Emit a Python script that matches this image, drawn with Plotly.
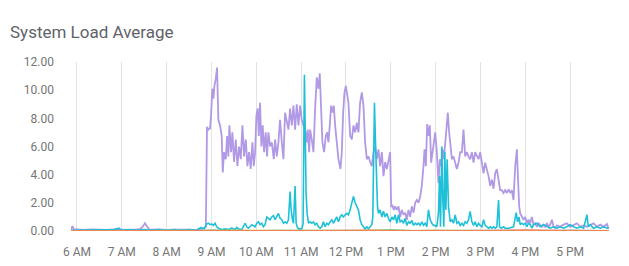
import datetime as dt
import plotly.graph_objects as go

TITLE = "System Load Average"
BASE = dt.datetime(2024, 1, 1, 6, 0)

# minutes after 6 AM
purple_t = [-8, -6, -4, 0, 10, 20, 30, 40, 50, 60, 70, 80, 85, 88, 91, 94, 97, 110, 120, 130, 140, 150, 160, 170, 172.5,
            174, 175.9, 178.1, 179.4, 181.2, 182.6, 183.9, 185.7, 187.5, 189.2, 191.5, 193.7, 195.1, 196.8, 199.1,
            200.9, 202.6, 204.0, 206.2, 208.0, 210.2, 212.5, 214.7, 216.9, 219.2, 221.4, 223.6, 225.9, 228.1, 230.3,
            232.5, 234.8, 236.6, 238.4, 240.1, 241.9, 243.3, 245.0, 246.8, 248.6, 250.4, 252.6, 254.4, 256.2, 258.4,
            260.7, 263.4, 265.1, 267.4, 269.6, 271.8, 274.1, 276.3, 278.5, 280.8, 283.0, 285.2, 287.5, 289.7, 291.9,
            294.1, 296.4, 298.6, 300.8, 303.1, 305.3, 307.5, 308.9, 310.7, 312.0, 314.2, 316.5, 318.7, 320.9, 323.2,
            324.9, 326.7, 328.5, 330.7, 333.0, 334.8, 336.5, 338.3, 340.1, 341.9, 343.7, 345.5, 347.7, 349.9, 352.6,
            354.4, 356.2, 358.0, 359.8, 361.5, 363.3, 365.6, 367.8, 370.0, 372.3, 374.5, 376.7, 378.9, 381.2, 383.4,
            385.6, 387.9, 390.1, 392.3, 394.6, 396.8, 399.0, 401.3, 403.5, 405.7, 408.0, 410.2, 412.4, 414.7, 416.9,
            419.1, 420.5, 422.3, 424.0, 425.8, 428.0, 430.3, 432.5, 434.7, 437.0, 439.2, 441.4, 443.7, 445.9, 448.1,
            450.4, 452.6, 454.8, 457.0, 459.3, 461.5, 463.7, 465.1, 466.9, 468.7, 470.4, 472.2, 474.0, 475.8, 477.6,
            479.4, 481.6, 483.8, 485.6, 487.4, 489.2, 491.0, 492.8, 495.0, 496.3, 498.1, 499.9, 501.7, 503.9, 506.2,
            508.4, 510.6, 512.9, 515.1, 517.3, 519.5, 521.8, 524.0, 526.2, 528.5, 530.7, 532.9, 535.2, 537.4, 539.6,
            541.9, 544.1, 546.3, 548.6, 550.8, 553.0, 555.2, 557.5, 559.7, 561.9, 564.2, 566.4, 568.6, 570.9, 573.1,
            575.3, 577.6, 579.8, 582.0, 584.2, 586.5, 588.7, 590.5, 591.8, 593.2, 595.4, 597.6, 599.9, 602.1, 604.3,
            606.6, 608.8, 611.0, 613.3, 615.5, 617.7, 619.9, 622.2, 624.4, 626.6, 628.9, 631.1, 633.3, 635.6, 637.8,
            640.0, 642.3, 646.7, 651.2, 655.7, 660.1, 664.6, 669.1, 673.5, 678.0, 682.5, 686.9, 691.4, 695.9, 700.3,
            704.8, 709.3, 711.5]
purple_v = [0.1, 0.35, 0.1, 0.12, 0.08, 0.12, 0.1, 0.08, 0.12, 0.1, 0.08, 0.12, 0.15, 0.3, 0.55, 0.3, 0.1, 0.12, 0.08, 0.1, 0.12, 0.1, 0.08, 0.2, 0.3,
            7.4, 7.2, 7.3, 8.2, 10.1, 9.4, 10.3, 10.8, 11.6, 7.9, 7.5, 6.75, 4.15, 5.6, 5.1,
            6.75, 5.3, 7.5, 5.6, 7.0, 4.9, 6.5, 4.6, 6.0, 5.1, 7.5, 5.3, 6.5, 4.6, 5.6,
            4.4, 6.3, 4.6, 5.6, 8.2, 8.7, 6.75, 9.1, 6.0, 7.5, 5.6, 7.0, 5.3, 7.0, 6.0,
            6.3, 5.1, 6.5, 5.3, 6.3, 7.9, 6.3, 5.1, 8.4, 7.7, 7.2, 8.7, 7.5, 8.9, 7.2,
            9.0, 7.5, 8.9, 7.9, 7.5, 7.2, 6.3, 7.2, 5.6, 7.2, 6.5, 5.6, 8.7, 10.9, 10.1,
            11.2, 8.7, 6.3, 5.6, 6.75, 7.0, 6.3, 7.5, 8.9, 8.4, 8.9, 7.5, 6.3, 5.1, 4.4,
            5.6, 8.4, 9.85, 10.3, 9.6, 9.1, 6.75, 6.5, 7.5, 7.0, 7.7, 7.0, 9.1, 9.85, 8.9,
            6.3, 5.1, 5.3, 4.9, 4.6, 5.6, 6.0, 5.1, 5.8, 4.6, 5.6, 3.9, 4.9, 4.4, 5.1,
            5.6, 1.75, 1.8, 1.5, 1.75, 1.5, 1.75, 1.0, 1.5, 1.15, 1.3, 0.8, 1.5, 1.0, 1.75,
            1.3, 2.0, 2.2, 2.0, 2.45, 3.2, 4.6, 5.8, 4.6, 7.6, 6.75, 7.5, 4.85, 5.8, 6.3,
            7.0, 5.6, 3.4, 5.1, 4.6, 5.8, 5.1, 6.3, 7.7, 8.4, 7.0, 5.8, 5.1, 5.3, 4.85,
            4.4, 4.85, 5.6, 5.6, 7.2, 5.3, 5.6, 5.3, 5.1, 5.6, 4.85, 5.6, 5.3, 5.1, 5.6,
            4.85, 4.1, 4.85, 4.4, 3.9, 3.2, 3.65, 3.0, 4.1, 4.4, 3.65, 2.9, 2.9, 2.7, 2.9,
            2.7, 2.95, 2.7, 2.9, 2.2, 4.6, 5.8, 3.4, 1.75, 1.25, 1.0, 0.8, 1.0, 0.55, 0.8,
            0.55, 1.0, 0.45, 0.55, 0.3, 0.55, 0.45, 0.3, 0.45, 0.3, 0.55, 0.3, 0.45, 0.8, 0.3,
            0.2, 0.4, 0.3, 0.45, 0.55, 0.3, 0.45, 0.55, 0.3, 0.4, 0.3, 0.45, 0.55, 0.3, 0.45,
            0.3, 0.5, 0.15]

cyan_t = [-8, 0, 10, 20, 30, 40, 50, 56, 60, 70, 80, 90, 100, 110, 120, 130, 140, 150, 160, 166, 170,
          173.6, 175.9, 178.1, 180.3, 182.6, 184.8, 187.0, 189.2, 193.7, 198.2, 202.6, 207.1, 211.6, 213.8, 216.0,
          220.5, 225.0, 227.2, 229.4, 233.9, 238.4, 240.6, 242.8, 245.0, 247.3, 249.5, 251.7, 254.0, 256.2, 258.4,
          260.7, 262.9, 265.1, 267.4, 269.6, 271.8, 274.1, 276.3, 278.5, 280.8, 283.0, 285.2, 286.6, 288.4, 289.7,
          291.9, 293.3, 294.6, 296.4, 300.8, 302.6, 304.4, 305.7, 306.6, 308.0, 309.8, 312.0, 314.2, 316.5, 318.7,
          320.9, 323.2, 325.4, 327.6, 329.8, 332.1, 334.3, 336.5, 338.8, 341.0, 343.2, 345.5, 347.7, 349.9, 352.2,
          354.4, 356.6, 358.9, 361.1, 363.3, 365.6, 367.8, 370.0, 372.3, 374.5, 376.7, 378.9, 381.2, 383.4, 385.6,
          387.9, 390.1, 392.3, 394.6, 395.9, 397.3, 398.1, 399.5, 400.8, 402.2, 403.5, 405.7, 408.0, 410.2, 412.4,
          414.7, 416.9, 419.1, 421.4, 423.6, 425.8, 428.0, 430.3, 432.5, 434.7, 437.0, 439.2, 441.4, 443.7, 445.9,
          448.1, 450.4, 452.6, 454.8, 457.0, 459.3, 461.5, 463.7, 466.0, 468.2, 470.4, 472.7, 474.9, 477.1, 479.4,
          481.6, 483.8, 485.2, 486.5, 488.3, 489.6, 491.0, 492.3, 493.7, 495.4, 497.2, 499.5, 501.7, 503.9, 506.2,
          508.4, 510.6, 512.9, 515.1, 517.3, 519.5, 521.8, 524.0, 526.2, 528.5, 530.7, 532.9, 535.2, 537.4, 539.6,
          541.9, 544.1, 546.3, 548.6, 550.8, 553.0, 555.2, 557.5, 559.7, 561.9, 564.2, 565.5, 567.8, 570.9, 573.1,
          577.6, 582.0, 584.2, 587.8, 589.6, 591.4, 593.2, 595.4, 597.6, 599.9, 602.1, 604.3, 606.6, 608.8, 611.0,
          615.5, 619.9, 624.4, 628.9, 633.3, 637.8, 642.3, 646.7, 651.2, 655.7, 660.1, 664.6, 669.1, 673.5, 678.0,
          682.5, 684.3, 686.9, 691.4, 695.9, 700.3, 704.8, 709.3, 711.5]
cyan_v = [0.05, 0.05, 0.1, 0.05, 0.1, 0.05, 0.1, 0.2, 0.05, 0.1, 0.05, 0.1, 0.05, 0.1, 0.05, 0.1, 0.05, 0.1, 0.05, 0.25, 0.15,
          0.5, 0.55, 0.45, 0.5, 0.4, 0.55, 0.3, 0.2, 0.1, 0.15, 0.1, 0.2, 0.1, 0.25, 0.15,
          0.1, 0.55, 0.3, 0.2, 0.45, 0.3, 0.55, 0.65, 0.45, 0.55, 0.3, 0.45, 1.0, 0.9, 0.8,
          1.0, 1.1, 0.8, 1.0, 1.25, 0.9, 0.8, 0.55, 0.65, 0.55, 0.8, 2.8, 1.5, 0.8, 0.55,
          3.2, 0.55, 0.3, 0.15, 0.15, 0.5, 11.1, 6.0, 2.7, 1.25, 0.55, 0.65, 0.55, 0.65, 0.45,
          0.55, 0.3, 0.2, 0.3, 0.65, 0.3, 0.55, 0.45, 0.65, 0.8, 0.55, 0.8, 1.0, 0.65, 1.0,
          1.15, 1.0, 1.15, 1.25, 1.15, 1.5, 2.0, 2.45, 2.0, 1.75, 1.5, 0.8, 0.45, 0.3, 0.15,
          0.3, 0.15, 0.3, 0.45, 1.0, 5.1, 9.1, 6.3, 3.2, 1.75, 1.25, 1.5, 1.0, 1.4, 1.0,
          1.25, 0.9, 0.65, 1.0, 0.8, 1.15, 0.55, 1.15, 0.65, 0.75, 0.55, 0.9, 0.4, 0.65, 0.55,
          0.75, 0.4, 0.55, 0.45, 0.55, 0.4, 0.65, 0.4, 0.55, 0.3, 1.5, 0.8, 0.55, 0.4, 0.4,
          0.3, 1.3, 3.9, 0.3, 6.0, 2.2, 0.3, 5.6, 1.5, 5.1, 1.75, 0.65, 0.8, 0.55, 1.15,
          0.55, 0.65, 0.4, 0.55, 0.4, 0.65, 0.55, 0.8, 1.4, 0.65, 0.4, 0.65, 0.3, 0.55, 0.4,
          0.3, 0.8, 0.4, 0.3, 0.2, 0.3, 0.2, 0.3, 0.2, 0.3, 2.2, 0.3, 0.2, 0.3, 0.2,
          0.2, 0.3, 0.3, 1.3, 0.65, 1.0, 0.45, 0.55, 0.45, 0.55, 0.3, 0.55, 0.45, 0.2, 0.45,
          0.55, 0.3, 0.45, 0.3, 0.2, 0.3, 0.2, 0.3, 0.2, 0.3, 0.45, 0.3, 0.2, 0.3, 0.2,
          1.15, 0.3, 0.45, 0.2, 0.3, 0.2, 0.3, 0.2, 0.25]

small_t = [-8, 30, 60, 90, 120, 150, 180, 210, 240, 270, 300, 330, 360, 390, 420, 450, 480, 510, 540, 570, 600, 630, 660, 690, 711.5]
green_v = [0.03, 0.05, 0.02, 0.04, 0.03, 0.02, 0.08, 0.05, 0.04, 0.06, 0.05, 0.04, 0.08, 0.05, 0.1, 0.04, 0.06, 0.05, 0.04, 0.08, 0.05, 0.04, 0.06, 0.05, 0.04]
red_v = [0.02, 0.04, 0.05, 0.02, 0.03, 0.05, 0.04, 0.03, 0.06, 0.04, 0.03, 0.05, 0.04, 0.06, 0.03, 0.05, 0.04, 0.03, 0.06, 0.05, 0.08, 0.06, 0.04, 0.05, 0.03]
yellow_v = [0.03, 0.02, 0.04, 0.03, 0.05, 0.03, 0.04, 0.06, 0.03, 0.04, 0.05, 0.03, 0.04, 0.06, 0.03, 0.04, 0.05, 0.03, 0.04, 0.03, 0.05, 0.03, 0.04, 0.03, 0.02]
orange_v = [0.01] * len(small_t)

hour_labels = ["6 AM", "7 AM", "8 AM", "9 AM", "10 AM", "11 AM", "12 PM", "1 PM", "2 PM", "3 PM", "4 PM", "5 PM"]


def to_time(mins):
    return [BASE + dt.timedelta(minutes=m) for m in mins]


fig = go.Figure()
series = [
    (purple_t, purple_v, "#b199e6", 1.8),
    (cyan_t, cyan_v, "#1ec0d8", 1.6),
    (small_t, green_v, "#5cc48a", 1.0),
    (small_t, yellow_v, "#f5c542", 1.0),
    (small_t, red_v, "#ef6c6c", 1.0),
    (small_t, orange_v, "#f08a4b", 1.2),
]
for t, v, c, w in series:
    fig.add_trace(go.Scatter(x=to_time(t), y=v, mode="lines",
                             line=dict(color=c, width=w), hoverinfo="skip", showlegend=False))

tickvals = [BASE + dt.timedelta(hours=i) for i in range(len(hour_labels))]

fig.update_layout(
    width=629, height=266,
    margin=dict(l=71, r=20, t=62, b=35),
    paper_bgcolor="white", plot_bgcolor="white",
    font=dict(family="Roboto, sans-serif", size=12, color="#757575"),
    title=dict(text=TITLE, xref="container", x=10 / 629, xanchor="left",
               yref="container", y=1 - 32 / 266, yanchor="middle",
               font=dict(size=17, color="#5f6368")),
    xaxis=dict(range=[BASE + dt.timedelta(minutes=-8), BASE + dt.timedelta(minutes=712)],
               tickvals=tickvals, ticktext=hour_labels, showgrid=True, gridcolor="#e3e3e3", gridwidth=1,
               zeroline=False, showline=False, ticks="", ticklabelstandoff=12, automargin=False),
    yaxis=dict(range=[0, 12], dtick=2, tickformat=".2f", showgrid=False, zeroline=False,
               showline=False, ticks="", ticklabelstandoff=16, automargin=False),
)

fig.write_html("out.html")
